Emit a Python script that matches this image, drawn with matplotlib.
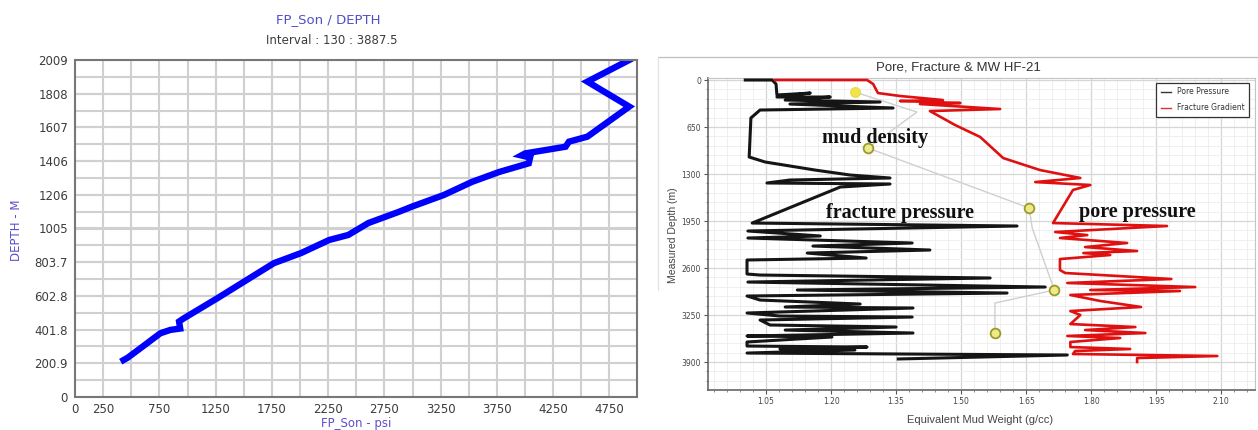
import matplotlib.pyplot as plt
import numpy as np
from matplotlib.ticker import MultipleLocator, FixedLocator, FormatStrFormatter
from matplotlib.lines import Line2D

# ---- left panel: FP_Son vs depth ----
fp_psi = [431, 470, 640, 699, 759, 848, 935, 925, 965, 1268, 1768, 2009, 2259, 2429,
          2607, 2875, 2991, 3277, 3527, 3768, 4033, 4045, 3967, 4000, 4360, 4390, 4554,
          4926, 4554, 4926]
fp_depth = [220, 235, 320, 350, 380, 400, 408, 450, 468, 590, 798, 858, 936, 966,
            1037, 1103, 1134, 1204, 1282, 1341, 1393, 1428, 1440, 1452, 1492, 1522, 1552,
            1731, 1880, 2009]
left_xticks = [0, 250, 750, 1250, 1750, 2250, 2750, 3250, 3750, 4250, 4750]
left_yticks = [0, 200.9, 401.8, 602.8, 803.7, 1005, 1206, 1406, 1607, 1808, 2009]
left_ylabels = ["0", "200.9", "401.8", "602.8", "803.7", "1005", "1206", "1406",
                "1607", "1808", "2009"]

# ---- right panel: pore / fracture / mud weight ----
pore_mw = [1.002, 1.064, 1.073, 1.075, 1.152, 1.075, 1.198, 1.094, 1.313, 1.105, 1.343,
           1.036, 1.015, 1.011, 1.048, 1.105, 1.163, 1.244, 1.336, 1.105, 1.052, 1.336,
           1.221, 1.018, 1.629, 1.008, 1.175, 1.008, 1.387, 1.158, 1.428, 1.145, 1.281,
           1.006, 1.006, 1.036, 1.567, 1.008, 1.694, 1.122, 1.606, 1.006, 1.036, 1.267,
           1.094, 1.389, 1.006, 1.082, 1.387, 1.036, 1.059, 1.350, 1.094, 1.389, 1.006,
           1.202, 1.006, 1.006, 1.283, 1.082, 1.255, 1.006, 1.745, 1.355]
pore_depth = [0, 0, 55, 207, 180, 235, 235, 277, 304, 332, 387, 415, 525, 1065, 1134,
              1189, 1245, 1314, 1355, 1383, 1424, 1438, 1480, 1978, 2019, 2088, 2157,
              2185, 2254, 2296, 2351, 2393, 2462, 2489, 2683, 2697, 2738, 2794, 2863,
              2904, 2946, 2987, 3043, 3098, 3139, 3153, 3222, 3264, 3278, 3319, 3388,
              3416, 3458, 3499, 3540, 3554, 3623, 3679, 3693, 3720, 3734, 3776, 3803,
              3858]
frac_mw = [1.071, 1.283, 1.297, 1.308, 1.359, 1.458, 1.359, 1.498, 1.405, 1.590, 1.428,
           1.486, 1.544, 1.597, 1.682, 1.775, 1.671, 1.798, 1.758, 1.712, 1.975, 1.717,
           1.791, 1.728, 1.883, 1.786, 1.906, 1.782, 1.844, 1.728, 1.728, 1.740, 1.985,
           1.745, 2.040, 1.798, 2.005, 1.752, 1.821, 1.915, 1.752, 1.775, 1.752, 1.902,
           1.786, 1.925, 1.745, 1.867, 1.752, 1.752, 1.890, 1.763, 1.758, 2.091, 1.906,
           1.906]
frac_depth = [0, 0, 55, 180, 221, 277, 290, 318, 332, 401, 429, 622, 788, 1079, 1245,
              1355, 1411, 1452, 1521, 1978, 2019, 2102, 2144, 2185, 2254, 2310, 2365,
              2393, 2420, 2476, 2628, 2669, 2752, 2807, 2863, 2904, 2918, 2973, 3056,
              3139, 3195, 3250, 3375, 3416, 3458, 3499, 3540, 3568, 3623, 3693, 3720,
              3748, 3789, 3817, 3845, 3900]
mud_mw = [1.255, 1.398, 1.285, 1.657, 1.664, 1.715, 1.578, 1.578]
mud_depth = [166, 443, 940, 1770, 2047, 2904, 3084, 3499]
mud_points = [0, 2, 3, 5, 7]

W, H = 1258, 430
fig = plt.figure(figsize=(12.58, 4.30), dpi=100)
fig.patch.set_facecolor("white")

# left chart
ax1 = fig.add_axes([75 / W, 1 - 397 / H, (637 - 75) / W, (397 - 60) / H])
ax1.plot(fp_psi, fp_depth, color="#0000ff", lw=4.6, solid_joinstyle="miter")
ax1.set_xlim(0, 4995)
ax1.set_ylim(0, 2009)
ax1.set_xticks(left_xticks)
ax1.set_xticklabels([str(v) for v in left_xticks])
ax1.xaxis.set_minor_locator(MultipleLocator(250))
ax1.set_yticks(left_yticks)
ax1.set_yticklabels(left_ylabels)
ax1.yaxis.set_minor_locator(MultipleLocator(2009 / 20))
ax1.grid(which="both", color="#d0d0d0", lw=1.5)
ax1.set_axisbelow(True)
ax1.tick_params(which="both", length=0)
ax1.tick_params(axis="x", pad=4, labelsize=8.5, labelcolor="#3c3c3c")
ax1.tick_params(axis="y", pad=5, labelsize=8.5, labelcolor="#3c3c3c")
for s in ax1.spines.values():
    s.set_color("#777777")
    s.set_linewidth(1.5)

fig.text(328 / W, 1 - 20 / H, "FP_Son / DEPTH", ha="center", va="center",
         fontsize=9.5, color="#5050c4")
fig.text(332 / W, 1 - 40 / H, "Interval : 130 : 3887.5", ha="center", va="center",
         fontsize=8.5, color="#3c3c3c")
fig.text(17 / W, 1 - 230 / H, "DEPTH - M", rotation=90, ha="center", va="center",
         fontsize=8.5, color="#5a50cc")
fig.text(356 / W, 1 - 423 / H, "FP_Son - psi", ha="center", va="center",
         fontsize=8.5, color="#5a50cc")

# right chart frame lines
fig.add_artist(Line2D([658 / W, 1.0], [1 - 57 / H, 1 - 57 / H], color="#bdbdbd", lw=0.9))
fig.add_artist(Line2D([658 / W, 658 / W], [1 - 57 / H, 1 - 290 / H], color="#e2e2e2", lw=0.9))

ax2 = fig.add_axes([708 / W, 1 - 390 / H, (1255 - 708) / W, (390 - 78) / H])
ax2.set_xlim(0.916, 2.178)
ax2.set_ylim(4287, -28)
ax2.xaxis.set_major_locator(FixedLocator([1.05, 1.20, 1.35, 1.50, 1.65, 1.80, 1.95, 2.10]))
ax2.xaxis.set_major_formatter(FormatStrFormatter("%.2f"))
ax2.xaxis.set_minor_locator(MultipleLocator(0.03))
ax2.yaxis.set_major_locator(MultipleLocator(650))
ax2.yaxis.set_minor_locator(MultipleLocator(130))
ax2.grid(which="major", color="#d6d6d6", lw=0.9)
ax2.grid(which="minor", color="#ececec", lw=0.6)
ax2.set_axisbelow(True)
ax2.tick_params(which="major", length=3, width=0.8, color="#555555",
                labelsize=5.5, labelcolor="#444444", pad=2)
ax2.tick_params(which="minor", length=1.6, width=0.6, color="#777777")
for k in ["left", "bottom"]:
    ax2.spines[k].set_color("#666666")
    ax2.spines[k].set_linewidth(1.2)
for k in ["top", "right"]:
    ax2.spines[k].set_color("#c4c4c4")
    ax2.spines[k].set_linewidth(0.8)

ax2.plot(mud_mw, mud_depth, color="#cfcfcf", lw=1.0, zorder=2)
ax2.plot(pore_mw, pore_depth, color="#151515", lw=2.2, zorder=3,
         label="Pore Pressure")
ax2.plot(frac_mw, frac_depth, color="#e01010", lw=1.9, zorder=3,
         label="Fracture Gradient")
ax2.plot([mud_mw[i] for i in mud_points[1:]], [mud_depth[i] for i in mud_points[1:]],
         ls="none", marker="o", ms=7, mfc="#eeea8a", mec="#9a9a2a", mew=1.3, zorder=4)
ax2.plot([mud_mw[0]], [mud_depth[0]], ls="none", marker="o", ms=7, mfc="#f2e34a",
         mec="#e8d84a", mew=0.8, zorder=4)

leg = ax2.legend(handles=[Line2D([], [], color="#333333", lw=1.0),
                          Line2D([], [], color="#e03030", lw=1.0)],
                 labels=["Pore Pressure", "Fracture Gradient"],
                 loc="upper right", bbox_to_anchor=(0.996, 0.997), fontsize=5.5,
                 fancybox=False, framealpha=1, edgecolor="#333333",
                 handlelength=1.3, borderpad=0.6, labelspacing=0.9, handletextpad=0.8)
leg.get_frame().set_linewidth(0.9)
for t in leg.get_texts():
    t.set_color("#333333")

serif = dict(family=["Liberation Serif", "DejaVu Serif"], weight="bold",
             fontsize=14.5, color="#111111", va="center", ha="left", zorder=5)
ax2.text(1.179, 802, "mud density", **serif)
ax2.text(1.188, 1839, "fracture pressure", **serif)
ax2.text(1.772, 1826, "pore pressure", **serif)

fig.text(958 / W, 1 - 68 / H, "Pore, Fracture & MW HF-21", ha="center", va="center",
         fontsize=9.5, color="#333333", family=["Liberation Sans", "DejaVu Sans"])
fig.text(673 / W, 1 - 235 / H, "Measured Depth (m)", rotation=90, ha="center",
         va="center", fontsize=7.5, color="#444444", family=["Liberation Sans", "DejaVu Sans"])
fig.text(980 / W, 1 - 420 / H, "Equivalent Mud Weight (g/cc)", ha="center",
         va="center", fontsize=8, color="#444444", family=["Liberation Sans", "DejaVu Sans"])

fig.savefig("out.png", dpi=100)
